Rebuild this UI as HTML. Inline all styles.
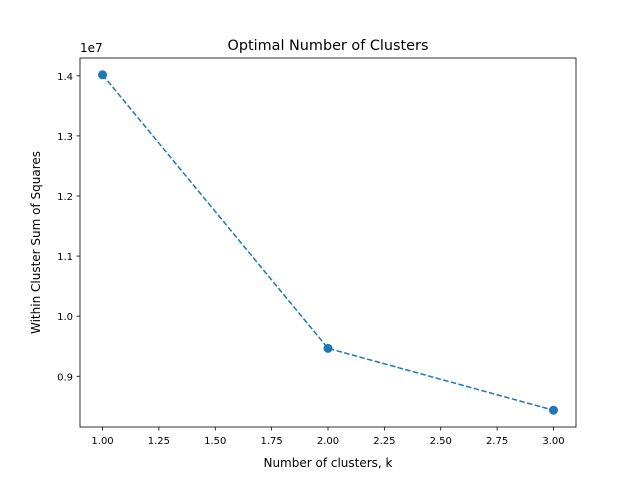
<!DOCTYPE html>
<html><head><meta charset="utf-8"><style>
body{margin:0;background:#fff;}
svg text{font-family:"DejaVu Sans","Liberation Sans",sans-serif;fill:#000;}
</style></head><body>
<svg id="chart" width="640" height="480">
<rect x="0" y="0" width="640" height="480" fill="#fff"/>
<g id="marks"></g>
<rect x="80" y="58" width="496" height="369" fill="none" stroke="#000" stroke-width="0.8"/>
<text x="328" y="50" font-size="14.4" text-anchor="middle">Optimal Number of Clusters</text>
<text x="328" y="467" font-size="12" text-anchor="middle">Number of clusters, k</text>
<text transform="translate(40,242.5) rotate(-90)" font-size="12" text-anchor="middle">Within Cluster Sum of Squares</text>
<text x="80" y="52" font-size="12">1e7</text>
</svg>
<script>
const categories=[1,2,3];
const wcss=[1.4017,0.9465,0.8435];
const xTicks=[1.00,1.25,1.50,1.75,2.00,2.25,2.50,2.75,3.00];
const yTicks=[0.9,1.0,1.1,1.2,1.3,1.4];
const L=80,R=576,T=58,B=427;
const x0=0.9,x1=3.1;
const ymin=Math.min(...wcss),ymax=Math.max(...wcss),pad=(ymax-ymin)*0.05;
const y0=ymin-pad,y1=ymax+pad;
const sx=v=>L+(v-x0)/(x1-x0)*(R-L);
const sy=v=>B-(v-y0)/(y1-y0)*(B-T);
const ns="http://www.w3.org/2000/svg";
const g=document.getElementById('marks');
function mk(t,a){const e=document.createElementNS(ns,t);for(const k in a)e.setAttribute(k,a[k]);g.appendChild(e);return e;}
xTicks.forEach(v=>{
 const l=mk('line',{x1:sx(v),x2:sx(v),y1:B,y2:B+3.5,stroke:'#000','stroke-width':0.8});
 
 
 const t=mk('text',{x:sx(v),y:B+17,'font-size':10,'text-anchor':'middle'});t.textContent=v.toFixed(2);
 
 
});
yTicks.forEach(v=>{
 const l=mk('line',{x1:L-3.5,x2:L,y1:sy(v),y2:sy(v),stroke:'#000','stroke-width':0.8});
 
 
 const t=mk('text',{x:L-7,y:sy(v)+4,'font-size':10,'text-anchor':'end'});t.textContent=v.toFixed(1);
 
 
});
const p=mk('polyline',{points:categories.map((c,i)=>sx(c)+','+sy(wcss[i])).join(' '),fill:'none',stroke:'#1f77b4','stroke-width':1.5,'stroke-dasharray':'5.5,2.4'});


categories.forEach((c,i)=>{
 const m=mk('circle',{cx:sx(c),cy:sy(wcss[i]),r:4.5,fill:'#1f77b4'});
 
 
});
</script>
</body></html>
